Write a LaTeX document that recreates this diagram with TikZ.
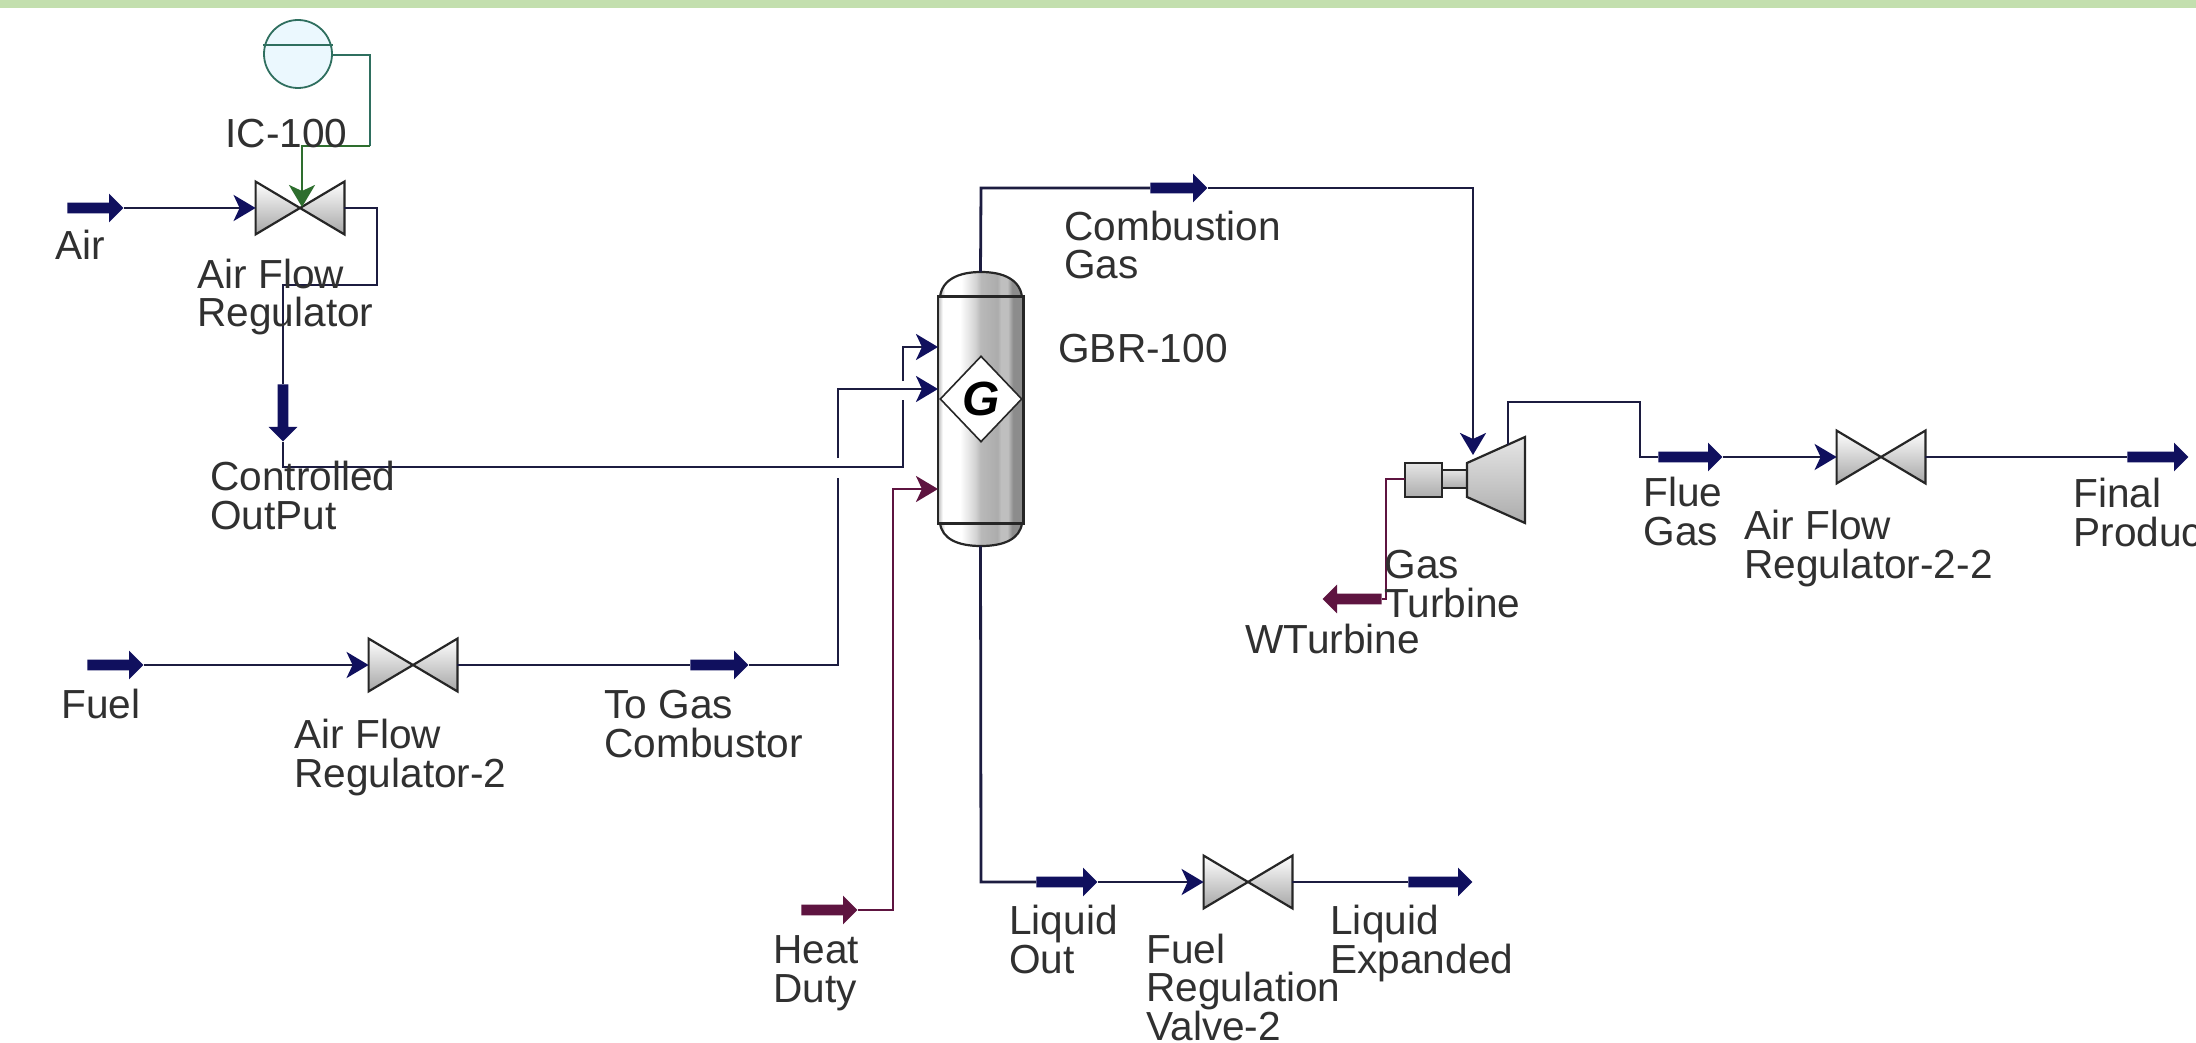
\documentclass[tikz,border=0pt]{standalone}
\usepackage{fontspec}
\setmainfont{Liberation Sans}
\usetikzlibrary{arrows.meta,shapes.arrows,shapes.geometric}
\definecolor{navy}{HTML}{10105E}
\definecolor{pipe}{HTML}{1C1C40}
\definecolor{maroon}{HTML}{5E1440}
\definecolor{ctrlgreen}{HTML}{2E6E2E}
\definecolor{ctrlteal}{HTML}{2F6F5F}
\definecolor{band}{HTML}{C3DFAE}
\definecolor{txt}{HTML}{303030}
\pgfdeclarehorizontalshading{columnshade}{100bp}{
 color(0bp)=(gray!60);color(25bp)=(gray!60);color(28bp)=(white);color(38bp)=(white);
 color(47bp)=(gray!35);color(50bp)=(gray!55);color(60bp)=(gray!65);color(62bp)=(gray!50);
 color(66bp)=(gray!50);color(69bp)=(gray!90);color(75bp)=(gray!90);color(100bp)=(gray!90)}
\tikzset{
 x=0.5pt,y=-0.5pt,
 lbl/.style={anchor=base west,inner sep=0pt,align=left,text=txt,
   font=\fontsize{20.3pt}{19.2pt}\selectfont},
 pipeline/.style={draw=pipe,line width=1.4pt},
 heatline/.style={draw=maroon,line width=1.4pt},
 feed/.style={-{Stealth[length=11pt,width=13pt,inset=3pt,color=navy]}},
 heatfeed/.style={-{Stealth[length=11pt,width=13pt,inset=3pt,color=maroon]}},
 ctrlfeed/.style={-{Stealth[length=11pt,width=13pt,inset=3pt,color=ctrlgreen]}},
 stream/.style={single arrow,draw=none,fill=navy,inner sep=2.5pt,
   single arrow head extend=4.5pt,anchor=tail},
 heatstream/.style={stream,fill=maroon},
 valvebox/.style={rectangle,inner sep=0pt,minimum width=44pt,minimum height=26pt},
 vesselpart/.style={draw=black!85,line width=1.1pt},
 shell/.style={vesselpart,top color=gray!20,bottom color=gray!65},
 wedge/.style={vesselpart,top color=white,bottom color=gray!70},
}
\newcommand{\valvedraw}[1]{%
 \path[wedge] (#1.north west) -- (#1.center) -- (#1.south west) -- cycle;
 \path[wedge] (#1.north east) -- (#1.center) -- (#1.south east) -- cycle;}
\begin{document}
\begin{tikzpicture}
\useasboundingbox (0,0) rectangle (2196,1043);
\clip (0,0) rectangle (2196,1043);
\fill[white] (0,0) rectangle (2196,1043);
\fill[band] (0,0) rectangle (2196,8);

% equipment
\node[valvebox] (v1) at (300,208) {}; \valvedraw{v1}
\node[valvebox] (v2) at (413,665) {}; \valvedraw{v2}
\node[valvebox] (v3) at (1248,882) {}; \valvedraw{v3}
\node[valvebox] (v4) at (1881,457) {}; \valvedraw{v4}

\node[circle,draw=ctrlteal,fill=cyan!8,line width=0.9pt,minimum size=34pt,inner sep=0pt] (ic) at (298,54) {};
\draw[ctrlteal,line width=0.9pt] (ic.west |- 0,45) -- (ic.east |- 0,45);

\node[rectangle,inner sep=0pt,minimum width=42.5pt,minimum height=113pt] (col) at (980.5,410) {};
\path[vesselpart,shading=columnshade] (940,297) .. controls (942,280) and (958,272) .. (981,272) .. controls (1004,272) and (1020,280) .. (1022,297) -- cycle;
\path[vesselpart,shading=columnshade] (940,523) .. controls (942,539) and (958,546) .. (981,546) .. controls (1004,546) and (1020,539) .. (1022,523) -- cycle;
\path[vesselpart,shading=columnshade] (col.north west) rectangle (col.south east);
\node[diamond,draw=black!85,fill=white,line width=0.8pt,inner sep=0pt,minimum width=41pt,minimum height=43pt,aspect=1,
  font=\fontsize{24pt}{24pt}\selectfont\bfseries\itshape] (g) at (981,399) {G};

\path[shell] (1405,463) rectangle (1442,497);
\path[shell] (1442,470) rectangle (1467,488);
\node[rectangle,inner sep=0pt,minimum width=29pt,minimum height=43pt] (tb) at (1496,480) {};
\path[shell] (1467,463) -- (1525,437) -- (1525,523) -- (1467,497) -- cycle;
\coordinate (tbwork) at (1405,479);
\coordinate (tbin) at (1473,455);
\coordinate (tbout) at (1508,445);

% feed / product streams
\node[stream,minimum height=28pt] (air) at (67,208) {};
\node[stream,minimum height=28.5pt,shape border rotate=270] (ctrl) at (283,384) {};
\node[stream,minimum height=28.5pt] (comb) at (1150,188) {};
\node[stream,minimum height=28pt] (fuel) at (87,665) {};
\node[stream,minimum height=29pt] (togas) at (690,665) {};
\node[heatstream,minimum height=28pt] (heat) at (801,910) {};
\node[stream,minimum height=30.5pt] (liqout) at (1036,882) {};
\node[stream,minimum height=32pt] (liqexp) at (1408,882) {};
\node[heatstream,minimum height=29.5pt,shape border rotate=180] (wt) at (1382,599) {};
\node[stream,minimum height=32pt] (flue) at (1658,457) {};
\node[stream,minimum height=30.5pt] (final) at (2127,457) {};

% way points
\coordinate (icr) at (370,55);
\coordinate (icd) at (370,146);
\coordinate (icl) at (302,146);
\coordinate (vtop) at (302,207);
\coordinate (v1r) at (377,208);
\coordinate (v1d) at (377,285);
\coordinate (v1l) at (283,285);
\coordinate (c1) at (283,467);
\coordinate (c2) at (903,467);
\coordinate (c3) at (903,400);
\coordinate (c4) at (903,381);
\coordinate (c5) at (903,347);
\coordinate (in1) at (938,347);
\coordinate (f1) at (838,665);
\coordinate (f2) at (838,478);
\coordinate (f3) at (838,458);
\coordinate (f4) at (838,389);
\coordinate (in2) at (938,389);
\coordinate (h1) at (893,910);
\coordinate (h2) at (893,489);
\coordinate (in3) at (938,489);
\coordinate (t1) at (981,188);
\coordinate (t2) at (1473,188);
\coordinate (b1) at (981,882);
\coordinate (o1) at (1508,402);
\coordinate (o2) at (1640,402);
\coordinate (o3) at (1640,457);
\coordinate (w1) at (1386,479);
\coordinate (w2) at (1386,599);

% connectors
\draw[draw=ctrlteal,line width=1.2pt] (ic.east |- icr) -- (icr) -- (icd);
\draw[draw=ctrlgreen,line width=1.3pt,ctrlfeed] (icd) -- (icl) -- (vtop);
\draw[pipeline,feed] (air.tip) -- (v1.west);
\draw[pipeline] (v1.east) -- (v1r) -- (v1d) -- (v1l) -- (ctrl.tail);
\draw[pipeline] (ctrl.tip) -- (c1) -- (c2) -- (c3);
\draw[pipeline,feed] (c4) -- (c5) -- (in1);
\draw[pipeline,feed] (fuel.tip) -- (v2.west);
\draw[pipeline] (v2.east) -- (togas.tail);
\draw[pipeline] (togas.tip) -- (f1) -- (f2);
\draw[pipeline,feed] (f3) -- (f4) -- (in2);
\draw[heatline,heatfeed] (heat.tip) -- (h1) -- (h2) -- (in3);
\draw[pipeline] (col.north |- 0,272) -- (t1) -- (comb.tail);
\draw[pipeline,feed] (comb.tip) -- (t2) -- (tbin);
\draw[pipeline] (col.south |- 0,546) -- (b1) -- (liqout.tail);
\draw[pipeline,feed] (liqout.tip) -- (v3.west);
\draw[pipeline] (v3.east) -- (liqexp.tail);
\draw[pipeline] (tbout) -- (o1) -- (o2) -- (o3) -- (flue.tail);
\draw[pipeline,feed] (flue.tip) -- (v4.west);
\draw[pipeline] (v4.east) -- (final.tail);
\draw[heatline] (tbwork) -- (w1) -- (w2) -- (wt.tail);

% labels (anchored at the baseline of the last line)
\node[lbl] (tIC) at (225,148) {IC-100};
\node[lbl] (tAir) at (55,260) {Air};
\node[lbl] (tAFR) at (197,327) {Air Flow\\Regulator};
\node[lbl] (tCO) at (210,529) {Controlled\\OutPut};
\node[lbl] (tCG) at (1064,279) {Combustion\\Gas};
\node[lbl] (tGBR) at (1058,363) {GBR-100};
\node[lbl] (tFuel) at (61,718) {Fuel};
\node[lbl] (tAFR2) at (294,787) {Air Flow\\Regulator-2};
\node[lbl] (tTG) at (604,757) {To Gas\\Combustor};
\node[lbl] (tHD) at (773,1002) {Heat\\Duty};
\node[lbl] (tLO) at (1009,973) {Liquid\\Out};
\node[lbl] (tFR) at (1146,1040) {Fuel\\Regulation\\Valve-2};
\node[lbl] (tLE) at (1330,973) {Liquid\\Expanded};
\node[lbl] (tGT) at (1384,617) {Gas\\Turbine};
\node[lbl] (tWT) at (1245,653) {WTurbine};
\node[lbl] (tFG) at (1643,545) {Flue\\Gas};
\node[lbl] (tAFR3) at (1744,578) {Air Flow\\Regulator-2-2};
\node[lbl] (tFP) at (2073,546) {Final\\Product};
\end{tikzpicture}
\end{document}
